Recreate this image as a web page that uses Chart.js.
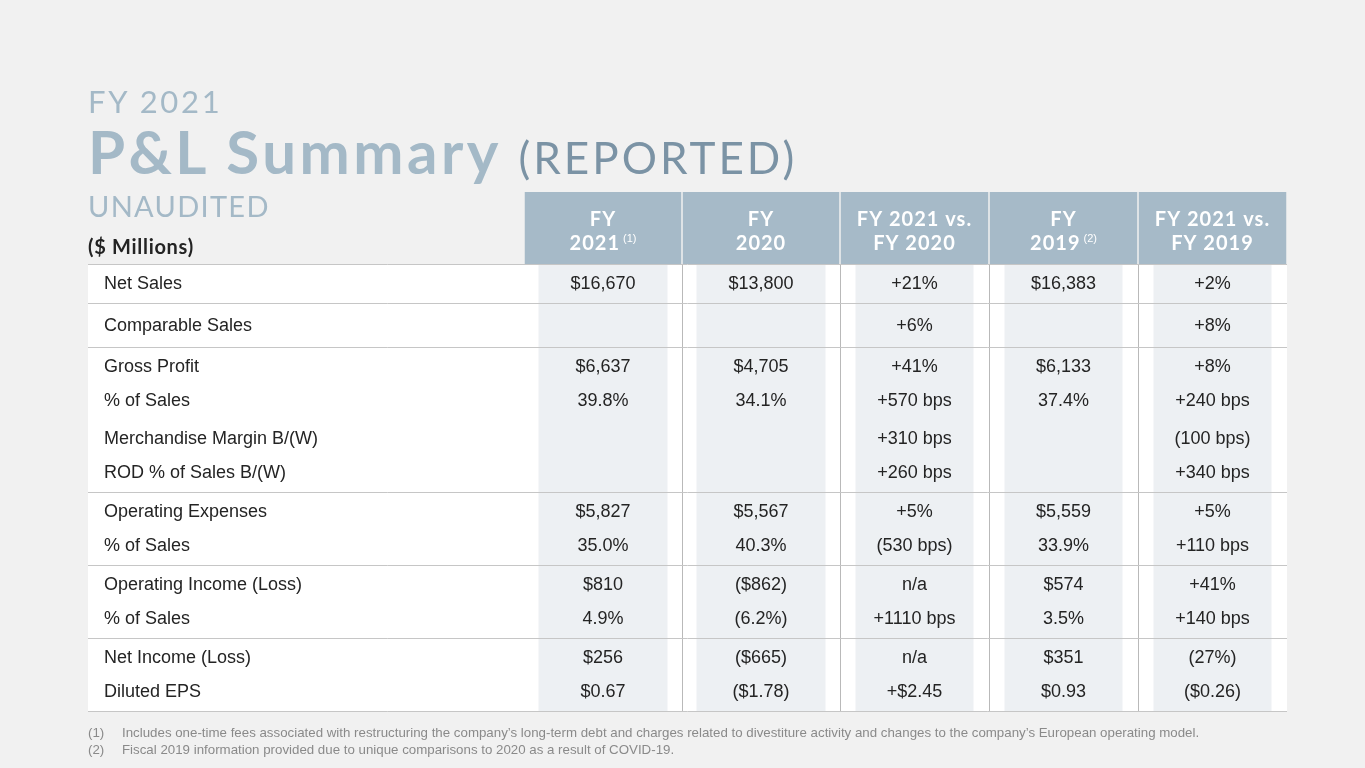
<!DOCTYPE html>
<html>
<head>
<meta charset="utf-8">
<title>FY 2021 P&amp;L Summary</title>
<script src="https://cdn.jsdelivr.net/npm/chart.js@4.4.0/dist/chart.umd.min.js"></script>
<style>
  html, body { margin: 0; padding: 0; background: #f1f1f1; }
  #page { position: relative; width: 1365px; height: 768px; overflow: hidden; }
  #box { position: absolute; left: 0; top: 0; width: 1365px; height: 768px; }
  .t { position: absolute; left: 88px; line-height: 1; font-family: Lato, "Open Sans", sans-serif; white-space: nowrap; color: #a4b9c7; }
  #kicker { top: 86px; font-size: 31px; letter-spacing: 2.7px; }
  #title { top: 121px; font-size: 60px; font-weight: 700; letter-spacing: 3.5px; }
  #title span { font-size: 44px; font-weight: 400; color: #7b93a5; letter-spacing: 3px; }
  #sub { top: 191px; font-size: 29px; letter-spacing: 1.3px; }
  #unit { top: 236px; font-size: 20px; font-weight: 700; color: #232323; letter-spacing: 0.7px; }
  .note { position: absolute; left: 88px; font: 13.3px "Liberation Sans", Arial, sans-serif; color: #8a8a8a; white-space: nowrap; }
  .note b { font-weight: 400; display: inline-block; width: 34px; }
</style>
</head>
<body>
<div id="page">
  <div id="box"><canvas id="plChart"></canvas></div>
  <div class="t" id="kicker">FY 2021</div>
  <div class="t" id="title">P&amp;L Summary <span>(REPORTED)</span></div>
  <div class="t" id="sub">UNAUDITED</div>
  <div class="t" id="unit">($ Millions)</div>
  <div class="note" style="top:725px"><b>(1)</b>Includes one-time fees associated with restructuring the company’s long-term debt and charges related to divestiture activity and changes to the company’s European operating model.</div>
  <div class="note" style="top:742px"><b>(2)</b>Fiscal 2019 information provided due to unique comparisons to 2020 as a result of COVID-19.</div>
</div>
<script>
const rowLabels = [
  "Net Sales",
  "Comparable Sales",
  "Gross Profit",
  "% of Sales",
  "Merchandise Margin B/(W)",
  "ROD % of Sales B/(W)",
  "Operating Expenses",
  "% of Sales",
  "Operating Income (Loss)",
  "% of Sales",
  "Net Income (Loss)",
  "Diluted EPS",
];
// rows that share a block between two rules
const rowGroups = [0, 1, 2, 2, 2, 2, 3, 3, 4, 4, 5, 5];

const colHeads = [
  ["FY", "2021"],
  ["FY", "2020"],
  ["FY 2021 vs.", "FY 2020"],
  ["FY", "2019"],
  ["FY 2021 vs.", "FY 2019"],
];
const colNotes = ["(1)", "", "", "(2)", ""];

const fy2021 = ["$16,670", "", "$6,637", "39.8%", "", "", "$5,827", "35.0%", "$810", "4.9%", "$256", "$0.67"];
const fy2020 = ["$13,800", "", "$4,705", "34.1%", "", "", "$5,567", "40.3%", "($862)", "(6.2%)", "($665)", "($1.78)"];
const vs2020 = ["+21%", "+6%", "+41%", "+570 bps", "+310 bps", "+260 bps", "+5%", "(530 bps)", "n/a", "+1110 bps", "n/a", "+$2.45"];
const fy2019 = ["$16,383", "", "$6,133", "37.4%", "", "", "$5,559", "33.9%", "$574", "3.5%", "$351", "$0.93"];
const vs2019 = ["+2%", "+8%", "+8%", "+240 bps", "(100 bps)", "+340 bps", "+5%", "+110 bps", "+41%", "+140 bps", "(27%)", "($0.26)"];
const colValues = [fy2021, fy2020, vs2020, fy2019, vs2019];

// ---- layout (scale units are px-sized on both axes) ----
const LABEL_W = 436;
const COL_W = [158, 158, 149, 149, 149];
const SHADE_W = [129, 129, 118, 118, 118];
const HEAD_H = 72;
const PITCH = 34;
const PAD_TOP = 20;
const PAD_BOTTOM = 19;
const extraBefore = { 1: 3, 4: 4 };
const extraAfter = { 1: 2 };

const colEdges = [LABEL_W];
COL_W.forEach(w => colEdges.push(colEdges[colEdges.length - 1] + w));
const colCenters = COL_W.map((w, j) => colEdges[j] + w / 2);
const tableW = colEdges[colEdges.length - 1];
let minGap = tableW;
for (let j = 1; j < colCenters.length; j++) minGap = Math.min(minGap, colCenters[j] - colCenters[j - 1]);

const linePos = [];
const groupEdges = [HEAD_H];
let cursor = HEAD_H;
rowGroups.forEach((g, i) => {
  const first = i === 0 || rowGroups[i - 1] !== g;
  cursor += (first ? PAD_TOP : PITCH) + (extraBefore[i] || 0);
  linePos.push(cursor);
  const last = i === rowGroups.length - 1 || rowGroups[i + 1] !== g;
  if (last) {
    cursor += PAD_BOTTOM + (extraAfter[i] || 0);
    groupEdges.push(cursor);
  }
});
const tableH = cursor;

const headFont = "bold 20px Lato, 'Open Sans', sans-serif";
const noteFont = "11px 'Liberation Sans', Arial, sans-serif";
const bodyFont = "18px 'Liberation Sans', Arial, sans-serif";

const tablePlugin = {
  id: "plTable",
  beforeDatasetsDraw(chart) {
    const { ctx, scales: { x, y } } = chart;
    const top = y.getPixelForValue(HEAD_H);
    const bottom = y.getPixelForValue(tableH);
    ctx.save();
    ctx.fillStyle = "#ffffff";
    ctx.fillRect(x.left, top, x.right - x.left, bottom - top);

    ctx.strokeStyle = "#b9b9b9";
    ctx.lineWidth = 1;
    for (let j = 1; j < COL_W.length; j++) {
      const px = Math.round(x.getPixelForValue(colEdges[j])) + 0.5;
      ctx.beginPath();
      ctx.moveTo(px, top);
      ctx.lineTo(px, bottom);
      ctx.stroke();
    }
    ctx.restore();
  },
  afterDatasetsDraw(chart) {
    const { ctx, scales: { x, y } } = chart;
    ctx.save();

    // rules between row blocks
    ctx.strokeStyle = "#c6c6c6";
    ctx.lineWidth = 1;
    groupEdges.forEach(v => {
      const py = Math.round(y.getPixelForValue(v)) + 0.5;
      ctx.beginPath();
      ctx.moveTo(x.left, py);
      ctx.lineTo(x.right, py);
      ctx.stroke();
    });

    // header text
    const headMid = y.getPixelForValue(HEAD_H / 2);
    ctx.fillStyle = "#ffffff";
    ctx.textBaseline = "middle";
    colHeads.forEach((lines, j) => {
      const cx = x.getPixelForValue(colCenters[j]);
      ctx.font = headFont;
      ctx.letterSpacing = "1px";
      ctx.textAlign = "center";
      ctx.fillText(lines[0], cx, headMid - 8);

      const note = colNotes[j];
      if (!note) {
        ctx.fillText(lines[1], cx, headMid + 16);
        return;
      }
      const mainW = ctx.measureText(lines[1]).width;
      ctx.letterSpacing = "0px";
      ctx.font = noteFont;
      const noteW = ctx.measureText(note).width;
      const start = cx - (mainW + 3 + noteW) / 2;
      ctx.textAlign = "left";
      ctx.font = headFont;
      ctx.letterSpacing = "1px";
      ctx.fillText(lines[1], start, headMid + 16);
      ctx.letterSpacing = "0px";
      ctx.font = noteFont;
      ctx.fillText(note, start + mainW + 3, headMid + 11);
    });
    ctx.letterSpacing = "0px";

    // body text
    ctx.font = bodyFont;
    ctx.fillStyle = "#242424";
    rowLabels.forEach((label, i) => {
      const py = y.getPixelForValue(linePos[i]);
      ctx.textAlign = "left";
      ctx.fillText(label, x.left + 16, py);
      ctx.textAlign = "center";
      colValues.forEach((vals, j) => {
        if (vals[i]) ctx.fillText(vals[i], x.getPixelForValue(colCenters[j]), py);
      });
    });
    ctx.restore();
  },
};

// one floating bar per header cell and per shaded column
const headSets = colHeads.map((_, j) => ({
  label: "head " + j,
  data: [{ x: colCenters[j], y: [0, HEAD_H] }],
  backgroundColor: "#a6bac8",
  barPercentage: (COL_W[j] - 1.5) / minGap,
  categoryPercentage: 1,
  grouped: false,
}));
const shadeSets = colHeads.map((_, j) => ({
  label: "shade " + j,
  data: [{ x: colCenters[j], y: [HEAD_H, tableH] }],
  backgroundColor: "#edf0f3",
  barPercentage: SHADE_W[j] / minGap,
  categoryPercentage: 1,
  grouped: false,
}));

new Chart(document.getElementById("plChart"), {
  type: "bar",
  data: { datasets: headSets.concat(shadeSets) },
  options: {
    animation: false,
    responsive: true,
    maintainAspectRatio: false,
    events: [],
    layout: {
      padding: { left: 88, right: 1365 - 88 - tableW, top: 192, bottom: 768 - 192 - tableH },
    },
    scales: {
      x: {
        type: "linear",
        min: 0,
        max: tableW,
        offset: false,
        display: false,
        afterBuildTicks: axis => {
          axis.ticks = colCenters.map(v => ({ value: v }));
        },
      },
      y: {
        type: "linear",
        min: 0,
        max: tableH,
        reverse: true,
        display: false,
      },
    },
    plugins: {
      legend: { display: false },
      tooltip: { enabled: false },
    },
  },
  plugins: [tablePlugin],
});
</script>
</body>
</html>
